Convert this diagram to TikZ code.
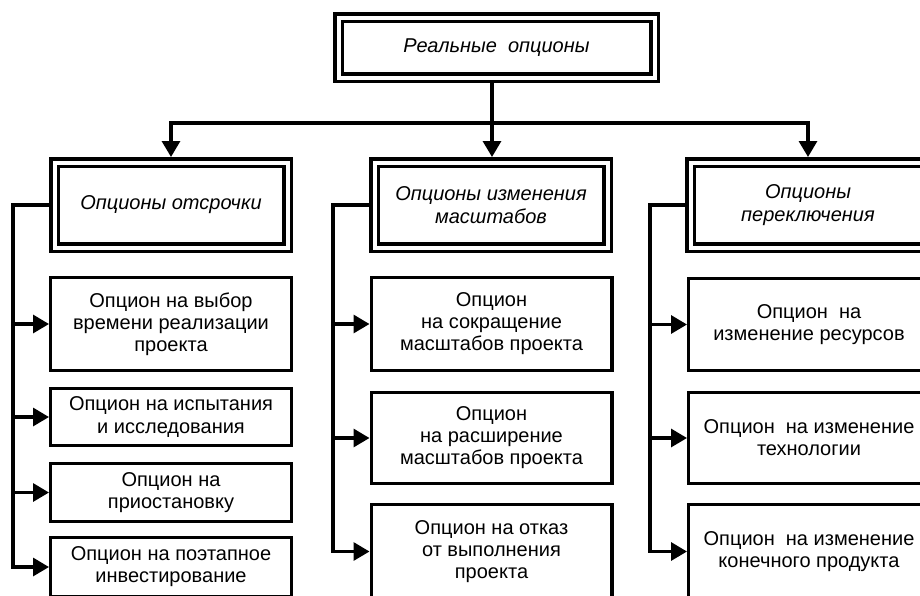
\documentclass[tikz,border=0pt]{standalone}
\usepackage{fontspec}
\setmainfont{Liberation Sans}
\usetikzlibrary{arrows.meta}
\begin{document}
\begin{tikzpicture}[x=1pt,y=-1pt,
  every node/.style={inner sep=2pt, outer sep=0pt, align=center, font=\fontsize{20}{22}\selectfont},
  dbox/.style={draw, line width=3.5pt, double, double distance=4pt, outer sep=5.5pt, font=\fontsize{20}{23}\selectfont\itshape},
  obox/.style={draw, line width=3.3pt, outer sep=1.65pt, minimum width=240.7pt},
  link/.style={line width=3.2pt},
  arr/.style={link, -{Triangle[length=16pt,width=18pt]}}]
\useasboundingbox (0,0) rectangle (920,595);
\clip (0,0) rectangle (920,595);

% top
\node[dbox, minimum width=316pt, minimum height=60pt] (root) at (496.5,47.5) {Реальные~ опционы};

% headers
\node[dbox, minimum width=233pt, minimum height=85pt] (h1) at (171,205) {Опционы отсрочки};
\node[dbox, minimum width=233pt, minimum height=85pt] (h2) at (491,205) {Опционы изменения\\масштабов};
\node[dbox, minimum width=235pt, minimum height=85pt] (h3) at (808,205) {Опционы\\переключения};

% column 1
\node[obox, minimum height=92.7pt] (a1) at (171,324) {Опцион на выбор\\времени реализации\\проекта};
\node[obox, minimum height=56.7pt] (a2) at (171,417) {Опцион на испытания\\и исследования};
\node[obox, minimum height=57.7pt] (a3) at (171,492.5) {Опцион на\\приостановку};
\node[obox, minimum height=58.7pt] (a4) at (171,567) {Опцион на поэтапное\\инвестирование};

% column 2
\node[obox, minimum height=92.7pt] (b1) at (491.5,324) {Опцион\\на сокращение\\масштабов проекта};
\node[obox, minimum height=90.7pt] (b2) at (491.5,438) {Опцион\\на расширение\\масштабов проекта};
\node[obox, minimum height=93.7pt] (b3) at (491.5,551.5) {Опцион на отказ\\от выполнения\\проекта};

% column 3
\node[obox, minimum height=91.7pt] (c1) at (809,324.5) {Опцион~ на\\изменение ресурсов};
\node[obox, minimum height=90.7pt] (c2) at (809,438) {Опцион~ на изменение\\технологии};
\node[obox, minimum height=93.7pt] (c3) at (809,551.5) {Опцион~ на изменение\\конечного продукта};

% top connectors
\coordinate (j) at (492,123);
\draw[link] (root.south -| j) -- (j);
\draw[arr] (j) -| (h1.north);
\draw[arr] (j) -| (h3.north);
\draw[arr] (j) -- (j |- h2.north);

% side trunks
\coordinate (t1) at (13,0);
\coordinate (t2) at (333,0);
\coordinate (t3) at (650,0);

\draw[arr] (h1.west) -| (t1 |- a4.west) -- (a4.west);
\draw[arr] (t1 |- a1.west) -- (a1.west);
\draw[arr] (t1 |- a2.west) -- (a2.west);
\draw[arr] (t1 |- a3.west) -- (a3.west);

\draw[arr] (h2.west) -| (t2 |- b3.west) -- (b3.west);
\draw[arr] (t2 |- b1.west) -- (b1.west);
\draw[arr] (t2 |- b2.west) -- (b2.west);

\draw[arr] (h3.west) -| (t3 |- c3.west) -- (c3.west);
\draw[arr] (t3 |- c1.west) -- (c1.west);
\draw[arr] (t3 |- c2.west) -- (c2.west);
\end{tikzpicture}
\end{document}
